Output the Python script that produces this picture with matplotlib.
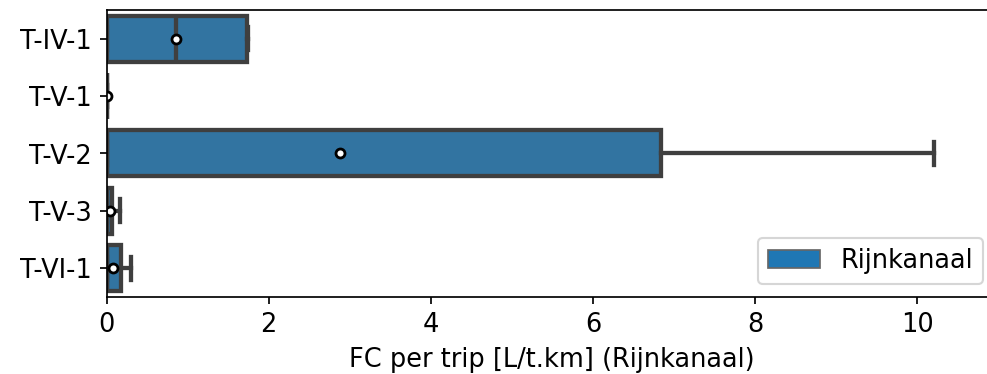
import matplotlib
matplotlib.use("Agg")
import matplotlib.pyplot as plt
from matplotlib.patches import Patch

plt.rcParams["font.size"] = 12

# box statistics per trip type (FC per trip, L/t.km, Rijnkanaal)
categories = ["T-IV-1", "T-V-1", "T-V-2", "T-V-3", "T-VI-1"]
q1 = [0.0, 0.0, 0.0, 0.0, 0.0]
median = [0.86, 0.0, 0.0, 0.0, 0.0]
q3 = [1.73, 0.005, 6.84, 0.07, 0.18]
whislo = [0.0, 0.0, 0.0, 0.0, 0.0]
whishi = [1.75, 0.005, 10.2, 0.16, 0.30]
mean = [0.86, 0.0, 2.88, 0.045, 0.078]

box_color = "#3274a1"
line_color = "#3f3f3f"

stats = []
for i, name in enumerate(categories):
    stats.append(dict(label=name, q1=q1[i], med=median[i], q3=q3[i],
                      whislo=whislo[i], whishi=whishi[i], mean=mean[i], fliers=[]))

fig, ax = plt.subplots(figsize=(6.41, 2.43), dpi=154)
# axes runs slightly past the right edge of the canvas
fig.subplots_adjust(left=0.108, right=1.009, top=0.973, bottom=0.206)

lw = 2.0
ax.bxp(stats, positions=range(len(categories)), widths=0.8, vert=False,
       patch_artist=True, showmeans=True,
       boxprops=dict(facecolor=box_color, edgecolor=line_color, linewidth=lw),
       medianprops=dict(color=line_color, linewidth=lw),
       whiskerprops=dict(color=line_color, linewidth=lw),
       capprops=dict(color=line_color, linewidth=lw),
       meanprops=dict(marker="o", markerfacecolor="white", markeredgecolor="black",
                      markersize=4.2, markeredgewidth=1.3))

ax.set_yticks(range(len(categories)))
ax.set_yticklabels(categories)
ax.set_ylim(len(categories) - 0.5, -0.5)
ax.set_xlim(0, 10.97)
ax.set_xticks([0, 2, 4, 6, 8, 10])
ax.set_xlabel("FC per trip [L/t.km] (Rijnkanaal)")

ax.legend(handles=[Patch(facecolor="#1f77b4", edgecolor="#666666", linewidth=0.8,
                         label="Rijnkanaal")], loc="lower right")

fig.savefig("out.png", dpi=154)
